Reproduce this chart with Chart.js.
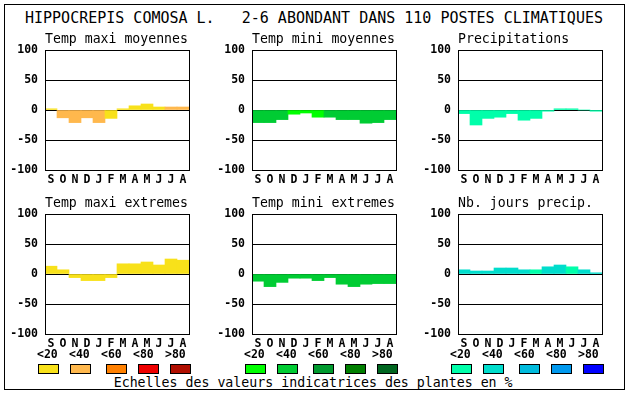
<!DOCTYPE html>
<html>
<head>
<meta charset="utf-8">
<script src="https://cdn.jsdelivr.net/npm/chart.js@4.4.1/dist/chart.umd.min.js"></script>
<style>
	html, body { margin: 0; padding: 0; background: #fff; }
	body { width: 630px; height: 394px; position: relative; overflow: hidden; font-family: "DejaVu Sans Mono", monospace; color: #000; }
	.frame { position: absolute; left: 4px; top: 4px; width: 619px; height: 384px; border: 1px solid #000; }
	.txt { position: absolute; white-space: pre; }
	.main-title { left: 25px; top: 10.6px; font-size: 15px; line-height: 15px; }
	.footer { left: 113.7px; top: 375.5px; font-size: 13.25px; line-height: 13.25px; }
	.leg-label { font-size: 11.5px; line-height: 11.5px; font-weight: bold; top: 348.5px; }
	.swatch { position: absolute; top: 364px; width: 21px; height: 10px; box-sizing: border-box; border: 1px solid #000; }
	canvas { position: absolute; }
</style>
</head>
<body>
<div class="frame"></div>
<div class="txt main-title">HIPPOCREPIS COMOSA L.   2-6 ABONDANT DANS 110 POSTES CLIMATIQUES</div>
<div class="txt footer">Echelles des valeurs indicatrices des plantes en %</div>

<script>
	const months = ["S", "O", "N", "D", "J", "F", "M", "A", "M", "J", "J", "A"];
	const yTicks = [-100, -50, 0, 50, 100];
	const legendLabels = ["<20", "<40", "<60", "<80", ">80"];

	// ecarts mensuels (%)
	const tmaxMoy = [2, -13, -21, -13, -21, -14, 2, 7, 10, 5, 5, 5];
	const tminMoy = [-21, -21, -16, -7, -5, -12, -12, -16, -16, -22, -21, -16];
	const precip = [-6, -25, -14, -12, -6, -17, -14, -2, 2, 2, 0, -2];
	const tmaxExt = [13, 7, -6, -11, -11, -6, 17, 17, 20, 15, 25, 23];
	const tminExt = [-12, -21, -14, -7, -7, -11, -6, -17, -21, -17, -16, -16];
	const nbJours = [7, 5, 5, 10, 10, 7, 7, 12, 15, 12, 7, 2];

	// classe de la valeur indicatrice (0: <20 ... 4: >80)
	const tmaxMoyClass = [0, 1, 1, 1, 1, 0, 0, 0, 0, 0, 1, 1];
	const tminMoyClass = [1, 1, 1, 0, 0, 0, 1, 1, 1, 1, 1, 1];
	const precipClass = [0, 0, 0, 0, 0, 0, 0, 0, 0, 0, 0, 0];
	const tmaxExtClass = [0, 0, 0, 0, 0, 0, 0, 0, 0, 0, 0, 0];
	const tminExtClass = [1, 1, 1, 1, 1, 1, 1, 1, 1, 1, 1, 1];
	const nbJoursClass = [1, 1, 1, 1, 1, 1, 0, 1, 1, 0, 1, 1];

	const warm = ["#F8E11A", "#FFB84D", "#FF8000", "#EE0000", "#B00E00"];
	const green = ["#00FF00", "#00CC33", "#009A2E", "#007F00", "#006620"];
	const blue = ["#00FFAA", "#00DDCC", "#00BBDD", "#0099EE", "#0000FF"];

	const FONT = "'DejaVu Sans Mono', monospace";

	const panels = [
		{ title: "Temp maxi moyennes", values: tmaxMoy, cls: tmaxMoyClass, palette: warm, x: 45, y: 50 },
		{ title: "Temp mini moyennes", values: tminMoy, cls: tminMoyClass, palette: green, x: 252, y: 50 },
		{ title: "Precipitations", values: precip, cls: precipClass, palette: blue, x: 458, y: 50 },
		{ title: "Temp maxi extremes", values: tmaxExt, cls: tmaxExtClass, palette: warm, x: 45, y: 214, legend: true },
		{ title: "Temp mini extremes", values: tminExt, cls: tminExtClass, palette: green, x: 252, y: 214, legend: true },
		{ title: "Nb. jours precip.", values: nbJours, cls: nbJoursClass, palette: blue, x: 458, y: 214, legend: true },
	];

	const plotFrame = {
		id: "plotFrame",
		afterDraw(chart) {
			const { ctx, chartArea: a } = chart;
			ctx.save();
			ctx.strokeStyle = "#000";
			ctx.lineWidth = 1;
			ctx.strokeRect(a.left + 0.5, a.top + 0.5, a.width, a.height);
			ctx.restore();
		}
	};

	const labelOffsets = [-8, 24, 56, 88, 120];
	const swatchOffsets = [-7, 25, 61, 93, 125];

	panels.forEach((p) => {
		const canvas = document.createElement("canvas");
		canvas.width = 192;
		canvas.height = 170;
		canvas.style.left = (p.x - 45) + "px";
		canvas.style.top = (p.y - 30) + "px";
		canvas.style.width = "192px";
		canvas.style.height = "170px";
		document.body.appendChild(canvas);

		new Chart(canvas.getContext("2d"), {
			type: "bar",
			data: {
				labels: months,
				datasets: [{
					data: p.values,
					backgroundColor: p.cls.map(c => p.palette[c]),
					borderWidth: 0,
					barPercentage: 1,
					categoryPercentage: 1,
				}]
			},
			options: {
				responsive: false,
				animation: false,
				devicePixelRatio: 1,
				layout: { padding: { left: 0, right: 3, top: 0, bottom: 0 } },
				plugins: {
					legend: { display: false },
					tooltip: { enabled: false },
					title: {
						display: true,
						text: p.title,
						align: "start",
						fullSize: false,
						color: "#000",
						font: { family: FONT, size: 13.2, weight: "normal", lineHeight: "16px" },
						padding: { top: 11.5, bottom: 2.5 }
					}
				},
				scales: {
					x: {
						grid: { display: false, drawTicks: false },
						border: { display: false },
						ticks: {
							color: "#000",
							autoSkip: false,
							maxRotation: 0,
							padding: 3,
							font: { family: FONT, size: 11.5, weight: "bold" }
						},
						afterFit: (s) => { s.height = 20; }
					},
					y: {
						min: -100,
						max: 100,
						z: 1,
						afterBuildTicks: (s) => { s.ticks = yTicks.map(v => ({ value: v })); },
						grid: { color: "#000", lineWidth: 1, drawTicks: false },
						border: { display: false },
						ticks: {
							color: "#000",
							padding: 7,
							font: { family: FONT, size: 11.5, weight: "bold" }
						},
						afterFit: (s) => { s.width = 45; }
					}
				}
			},
			plugins: [plotFrame]
		});

		if (p.legend) {
			legendLabels.forEach((lab, i) => {
				const t = document.createElement("div");
				t.className = "txt leg-label";
				t.textContent = lab;
				t.style.left = (p.x + labelOffsets[i]) + "px";
				document.body.appendChild(t);

				const sw = document.createElement("div");
				sw.className = "swatch";
				sw.style.left = (p.x + swatchOffsets[i]) + "px";
				sw.style.background = p.palette[i];
				document.body.appendChild(sw);
			});
		}
	});
</script>
</body>
</html>
